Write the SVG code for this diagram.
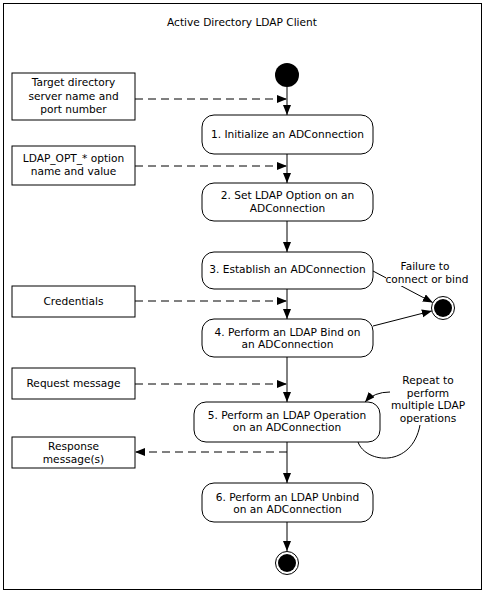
<svg xmlns="http://www.w3.org/2000/svg" width="485" height="593" viewBox="0 0 485 593">
<defs>
<marker id="ah" markerUnits="userSpaceOnUse" markerWidth="11" markerHeight="9" refX="10" refY="4" orient="auto">
<path d="M0,0 L10,4 L0,8 z" fill="#000"/>
</marker>
<style>
text{font-family:"DejaVu Sans",Verdana,sans-serif;font-size:10.6px;fill:#000;text-anchor:middle}
.box{fill:#fff;stroke:#000;stroke-width:1}
.act{fill:#fff;stroke:#000;stroke-width:1}
.c{stroke:#000;stroke-width:1;fill:none}
.d{stroke:#000;stroke-width:1;fill:none;stroke-dasharray:8,5}
</style>
</defs>
<rect x="0" y="0" width="485" height="593" fill="#fff"/>
<rect x="3.5" y="3.5" width="478" height="586" fill="#fff" stroke="#000" stroke-width="1"/>
<text x="242" y="26">Active Directory LDAP Client</text>

<g id="connectors">
<line class="c" x1="287" y1="87" x2="287" y2="115" marker-end="url(#ah)"/>
<line class="d" x1="135" y1="99" x2="287" y2="99" marker-end="url(#ah)"/>
<line class="c" x1="287" y1="154" x2="287" y2="183" marker-end="url(#ah)"/>
<line class="d" x1="135" y1="166" x2="287" y2="166" marker-end="url(#ah)"/>
<line class="c" x1="287" y1="221" x2="287" y2="252" marker-end="url(#ah)"/>
<line class="c" x1="373" y1="271" x2="432.8" y2="302.6" marker-end="url(#ah)"/>
<line class="d" x1="135" y1="301" x2="287" y2="301" marker-end="url(#ah)"/>
<line class="c" x1="287" y1="289" x2="287" y2="319" marker-end="url(#ah)"/>
<line class="c" x1="373" y1="326" x2="431.9" y2="310.9" marker-end="url(#ah)"/>
<line class="d" x1="135" y1="384" x2="287" y2="384" marker-end="url(#ah)"/>
<line class="c" x1="287" y1="357" x2="287" y2="402" marker-end="url(#ah)"/>
<path class="c" d="M358,442 C366,464 412,468 420,425"/>
<path class="c" d="M390,392 Q374,392 365,402" marker-end="url(#ah)"/>
<line class="c" x1="287" y1="442" x2="287" y2="483" marker-end="url(#ah)"/>
<line class="d" x1="287" y1="452" x2="135" y2="452" marker-end="url(#ah)"/>
<line class="c" x1="287" y1="522" x2="287" y2="551" marker-end="url(#ah)"/>
</g>

<g id="start"><circle cx="287" cy="75" r="12" fill="#000"/></g>

<g id="in-target">
<rect class="box" x="12" y="73" width="123" height="47"/>
<text x="73.5" y="86">Target directory</text>
<text x="73.5" y="100">server name and</text>
<text x="73.5" y="113">port number</text>
</g>
<g id="in-option">
<rect class="box" x="12" y="146" width="123" height="39"/>
<text x="73.5" y="162">LDAP_OPT_* option</text>
<text x="73.5" y="175">name and value</text>
</g>
<g id="in-credentials">
<rect class="box" x="12" y="286" width="123" height="31"/>
<text x="73.5" y="305">Credentials</text>
</g>
<g id="in-request">
<rect class="box" x="12" y="368" width="123" height="31"/>
<text x="73.5" y="387">Request message</text>
</g>
<g id="out-response">
<rect class="box" x="12" y="437" width="123" height="31"/>
<text x="73.5" y="450">Response</text>
<text x="73.5" y="463">message(s)</text>
</g>

<g id="n1">
<rect class="act" x="202" y="115" width="171" height="39" rx="12"/>
<text x="287.5" y="138">1. Initialize an ADConnection</text>
</g>
<g id="n2">
<rect class="act" x="202" y="183" width="171" height="38" rx="12"/>
<text x="287.5" y="199">2. Set LDAP Option on an</text>
<text x="287.5" y="212">ADConnection</text>
</g>
<g id="n3">
<rect class="act" x="202" y="252" width="171" height="37" rx="12"/>
<text x="287.5" y="273">3. Establish an ADConnection</text>
</g>
<g id="n4">
<rect class="act" x="202" y="319" width="171" height="38" rx="12"/>
<text x="287.5" y="336">4. Perform an LDAP Bind on</text>
<text x="287.5" y="348">an ADConnection</text>
</g>
<g id="n5">
<rect class="act" x="194" y="402" width="186" height="40" rx="12"/>
<text x="287" y="419">5. Perform an LDAP Operation</text>
<text x="287" y="431">on an ADConnection</text>
</g>
<g id="n6">
<rect class="act" x="202" y="483" width="171" height="39" rx="12"/>
<text x="287.5" y="501">6. Perform an LDAP Unbind</text>
<text x="287.5" y="513">on an ADConnection</text>
</g>

<g id="fail-end">
<circle cx="443" cy="308" r="11.5" fill="#fff" stroke="#000" stroke-width="1"/>
<circle cx="443" cy="308" r="9" fill="#000"/>
</g>
<g id="end">
<circle cx="287" cy="563" r="11.5" fill="#fff" stroke="#000" stroke-width="1"/>
<circle cx="287" cy="563" r="9" fill="#000"/>
</g>

<g id="label-failure">
<rect x="386" y="274" width="82" height="12" fill="#fff"/>
<text x="425" y="270">Failure to</text>
<text x="427" y="283">connect or bind</text>
</g>
<g id="label-repeat">
<text x="428" y="384">Repeat to</text>
<text x="428" y="397">perform</text>
<text x="428" y="409">multiple LDAP</text>
<text x="428" y="422">operations</text>
</g>
</svg>
